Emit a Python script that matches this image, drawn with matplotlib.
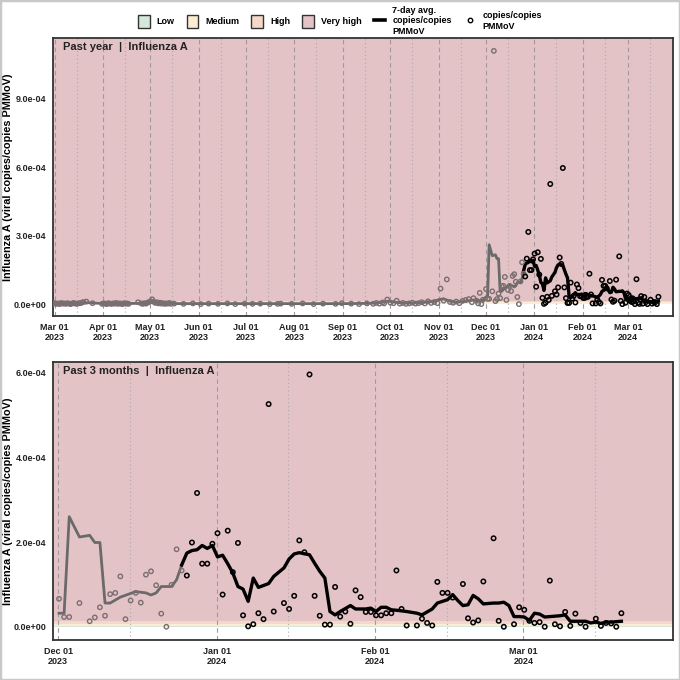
import numpy as np
import pandas as pd
import matplotlib
matplotlib.use('Agg')
import matplotlib.pyplot as plt
from matplotlib.patches import Patch, Rectangle
from matplotlib.lines import Line2D

plt.rcParams['font.family'] = ['Liberation Sans', 'DejaVu Sans']
plt.rcParams['font.weight'] = 'bold'

UNIT = 1e-5  # all values below are in 1e-5 copies/copies PMMoV

# risk levels: lower bound of each level (in UNIT)
level_names = ['Low', 'Medium', 'High', 'Very high']
level_lower = [0.0, 0.2, 0.7, 1.4]
level_colors = ['#d4e7d8', '#fbecd3', '#f4d9ca', '#e4c3c7']

# --- Mar 1 2023 .. Nov 30 2023 (days after 2023-03-01) ---
early_avg_day = [0, 10, 18, 22, 28, 35, 45, 55, 60, 63, 66, 72, 80, 110, 150, 185,
                 200, 207, 211, 214, 217, 222, 230, 236, 239, 243, 246, 249, 252,
                 256, 260, 264, 268, 271, 274]
early_avg_val = [0.3, 0.3, 0.5, 0.6, 0.4, 0.2, 0.3, 0.3, 0.6, 0.9, 0.7, 0.4, 0.2, 0.2,
                 0.2, 0.2, 0.3, 0.5, 1.0, 1.3, 0.9, 0.5, 0.5, 0.7, 1.0, 1.2, 2.0, 2.3,
                 1.5, 0.8, 1.0, 1.3, 1.8, 1.5, 1.7]

early_pt_day = [0, 1, 2, 3, 4, 5, 6, 7, 8, 9, 10, 11, 12, 13, 14, 15, 16, 17, 18, 19, 21, 25,
                31, 32, 33, 34, 35, 36, 37, 38, 39, 40, 41, 42, 43, 44, 45, 46, 47, 48, 54,
                56, 57, 58, 59, 60, 61, 62, 63, 64, 65, 66, 67, 68, 69, 70, 71, 72, 73, 74, 75,
                77, 83, 89, 94, 99, 105, 111, 116, 122, 127, 132, 138, 143, 145, 152, 159,
                166, 172, 180, 184, 190, 195, 200, 204, 206, 208, 210, 211, 213, 215, 217,
                219, 221, 223, 225, 227, 229, 231, 233, 235, 237, 239, 241, 243, 245, 247,
                249, 251, 253, 255, 257, 259, 261, 263, 265, 267, 268, 270, 271, 272, 273, 274]
early_pt_val = [0.2, 0.4, 0.1, 0.3, 0.0, 0.5, 0.2, 0.3, 0.1, 0.4, 0.2, 0.0, 0.3, 0.5, 0.2, 0.1,
                0.3, 0.4, 0.6, 0.9, 1.1, 0.4,
                0.1, 0.3, 0.2, 0.0, 0.4, 0.2, 0.1, 0.3, 0.2, 0.5, 0.1, 0.3, 0.2, 0.0, 0.4, 0.2,
                0.3, 0.1, 0.8,
                0.3, 0.1, 0.4, 0.2, 0.6, 0.9, 1.3, 2.1, 1.0, 0.5, 0.8, 0.3, 0.6, 0.2, 0.4, 0.1,
                0.3, 0.2, 0.5, 0.1,
                0.2, 0.1, 0.3, 0.0, 0.2, 0.1, 0.3, 0.0, 0.2, 0.1, 0.2, 0.0, 0.1, 0.2, 0.1, 0.3,
                0.0, 0.2, 0.1, 0.4, 0.2, 0.0, 0.3, 0.1, 0.5, 0.2, 0.7, 0.3, 2.0, 0.6, 0.4,
                1.5, 0.2, 0.5, 0.1, 0.3, 0.6, 0.2, 0.4, 0.8, 0.3, 1.2, 0.5, 0.9, 0.4, 6.8,
                1.5, 10.8, 0.9, 0.6, 1.1, 0.4, 1.4, 1.8, 2.2, 0.8, 2.6, 1.5, 0.3, 4.9, 0.0, 1.9]

# --- Dec 1 2023 onwards (days after 2023-12-01) ---
recent_avg_day = [1, 2, 3, 5, 7, 8, 9, 10, 11, 13, 16, 18, 19, 20, 21, 23, 24, 25, 26, 27,
                  28, 29, 30, 31, 32, 33, 34, 35, 36, 37, 38, 39, 40, 42, 43, 45, 46, 47,
                  48, 50, 51, 52, 53, 54, 55, 56, 58, 59, 61, 62, 63, 64, 65, 66, 67, 69,
                  71, 72, 74, 75, 77, 78, 79, 80, 81, 82, 83, 84, 86, 87, 88, 89, 90, 91,
                  92, 93, 94, 95, 96, 97, 99, 100, 101, 102, 104, 105, 106, 107, 108, 109, 111]
recent_avg_val = [3.2, 3.2, 26.0, 21.2, 21.6, 19.9, 19.9, 5.6, 5.6, 7.0, 8.3, 8.0, 7.5, 8.0,
                  9.5, 9.5, 11.1, 14.6, 17.4, 18.0, 18.2, 19.2, 18.5, 19.2, 16.5, 16.9, 14.9,
                  12.7, 9.5, 8.9, 6.0, 11.5, 9.3, 10.2, 11.9, 13.9, 16.0, 17.2, 17.5, 17.0,
                  15.0, 13.1, 11.5, 3.6, 2.8, 3.6, 5.0, 4.2, 4.2, 4.4, 3.6, 4.6, 4.6, 4.0,
                  3.9, 3.6, 3.2, 2.8, 4.2, 5.6, 6.4, 7.6, 6.2, 5.0, 5.2, 7.4, 6.6, 5.4, 5.6,
                  5.6, 5.8, 5.0, 2.4, 2.4, 2.3, 1.5, 3.2, 3.0, 2.3, 2.4, 2.6, 2.8, 1.3, 1.3,
                  1.3, 0.9, 1.1, 0.8, 1.1, 1.1, 1.3]

recent_pt_day = [1, 2, 3, 5, 6, 7, 8, 9, 10, 11, 12, 13, 14, 15, 16, 17, 18, 19, 20, 21, 22,
                 23, 24, 25, 26, 27, 28, 29, 30, 31, 32, 33, 34, 35, 36, 37, 38, 39, 40, 41,
                 42, 43, 45, 46, 47, 48, 49, 50, 51, 52, 53, 54, 55, 56, 57, 58, 59, 60, 61,
                 62, 63, 64, 65, 66, 67, 68, 69, 71, 72, 73, 74, 75, 76, 77, 78, 80, 81, 82,
                 83, 84, 86, 87, 88, 90, 91, 92, 93, 94, 95, 96, 97, 98, 99, 100, 101, 102,
                 103, 104, 106, 107, 108, 109, 110, 111]
recent_pt_val = [6.6, 2.3, 2.3, 5.6, 110.9, 1.3, 2.2, 4.6, 2.6, 7.7, 8.0, 11.9, 1.8, 6.2, 8.0,
                 5.7, 12.3, 13.1, 9.8, 3.1, 0.0, 9.9, 18.3, 13.3, 12.1, 19.9, 31.6, 14.9, 14.9,
                 19.6, 22.1, 7.6, 22.7, 12.9, 19.8, 2.7, 0.1, 0.6, 3.2, 1.8, 52.6, 3.6, 5.6,
                 4.2, 7.3, 20.4, 17.6, 59.6, 7.3, 2.6, 0.5, 0.5, 9.4, 2.4, 3.6, 0.7, 8.6, 7.0,
                 3.5, 3.5, 2.7, 2.7, 3.2, 3.2, 13.3, 4.2, 0.3, 0.3, 1.9, 0.9, 0.3, 10.6, 8.0,
                 8.0, 6.9, 10.1, 2.0, 1.0, 1.5, 10.7, 20.9, 1.4, 0.0, 0.6, 4.6, 4.0, 1.4, 0.9,
                 1.1, 0.0, 10.9, 0.6, 0.1, 3.5, 0.2, 3.1, 0.9, 0.0, 1.9, 0.2, 0.9, 0.8, 0.0, 3.2]

early_start = pd.Timestamp('2023-03-01')
recent_start = pd.Timestamp('2023-12-01')
cutoff = pd.Timestamp('2023-12-26')  # older data drawn in grey


def to_dates(start, days):
    return start + pd.to_timedelta(days, unit='D')


avg_dates = to_dates(early_start, early_avg_day).append(to_dates(recent_start, recent_avg_day))
avg_vals = np.array(early_avg_val + recent_avg_val) * UNIT
pt_dates = to_dates(early_start, early_pt_day).append(to_dates(recent_start, recent_pt_day))
pt_vals = np.array(early_pt_val + recent_pt_val) * UNIT

GREY = '#6a6a6a'
PT_GREY = '#7a6e70'


def draw_panel(ax, x0, x1, ylim, yticks, title):
    x0, x1 = pd.Timestamp(x0), pd.Timestamp(x1)
    ax.set_facecolor('white')
    uppers = level_lower[1:] + [ylim[1] / UNIT]
    for lo, hi, c in zip(level_lower, uppers, level_colors):
        ax.axhspan(lo * UNIT, hi * UNIT, color=c, lw=0, zorder=0)

    months = pd.date_range(x0 - pd.Timedelta(days=31), x1, freq='MS')
    for m in months:
        if x0 <= m <= x1:
            ax.axvline(m, color='#a09a9c', lw=0.8, dashes=(4, 3), zorder=1)
        mid = m + pd.Timedelta(days=14)
        if x0 <= mid <= x1:
            ax.axvline(mid, color='#b0a8aa', lw=0.8, dashes=(1, 2.5), zorder=1)

    inwin = (avg_dates >= x0) & (avg_dates <= x1)
    old = inwin & (avg_dates <= cutoff)
    new = inwin & (avg_dates >= cutoff)
    ax.plot(avg_dates[old], avg_vals[old], color=GREY, lw=2.0, zorder=3, solid_joinstyle='round')
    ax.plot(avg_dates[new], avg_vals[new], color='black', lw=2.4, zorder=4, solid_joinstyle='round')

    pwin = (pt_dates >= x0) & (pt_dates <= x1)
    pold = pwin & (pt_dates <= cutoff)
    pnew = pwin & (pt_dates > cutoff)
    ax.scatter(pt_dates[pold], pt_vals[pold], s=10, facecolors='none', edgecolors=PT_GREY,
               linewidths=1.0, zorder=5)
    ax.scatter(pt_dates[pnew], pt_vals[pnew], s=10, facecolors='none', edgecolors='black',
               linewidths=1.1, zorder=6)

    ax.set_xlim(x0, x1)
    ax.set_ylim(*ylim)
    ticks = [m for m in months if x0 <= m <= x1]
    ax.set_xticks(ticks)
    ax.set_xticklabels([t.strftime('%b %d\n%Y') for t in ticks], fontsize=6.5, fontweight='bold',
                       linespacing=1.1)
    ax.set_yticks(yticks)
    ax.set_yticklabels([f'{v:.1e}' for v in yticks], fontsize=6.5, fontweight='bold')
    ax.tick_params(length=0, pad=5, colors='#222222')
    ax.set_ylabel('Influenza A (viral copies/copies PMMoV)', fontsize=7.8, fontweight='bold')
    ax.yaxis.set_label_coords(-0.064, 0.5)
    for sp in ax.spines.values():
        sp.set_color('#333333')
        sp.set_linewidth(1.3)
    ax.text(0.016, 0.985, title, transform=ax.transAxes, ha='left', va='top',
            fontsize=8, fontweight='bold', color='#222222', zorder=10)


fig = plt.figure(figsize=(6.8, 6.8), dpi=100)
ax1 = fig.add_axes([0.078, 0.535, 0.911, 0.409])
ax2 = fig.add_axes([0.078, 0.059, 0.911, 0.409])

draw_panel(ax1, '2023-02-28 18:00', '2024-03-30', (-0.53e-4, 11.65e-4),
           [0, 3e-4, 6e-4, 9e-4], 'Past year  |  Influenza A')
draw_panel(ax2, '2023-11-30 20:00', '2024-03-31', (-0.31e-4, 6.26e-4),
           [0, 2e-4, 4e-4, 6e-4], 'Past 3 months  |  Influenza A')

handles = [Patch(facecolor=c, edgecolor='#333333', lw=1.0) for c in level_colors]
handles += [Line2D([], [], color='black', lw=2.6),
            Line2D([], [], ls='none', marker='o', mfc='none', mec='black', ms=3.2, mew=1.0)]
labels = level_names + ['7-day avg.\ncopies/copies\nPMMoV', 'copies/copies\nPMMoV']
fig.legend(handles, labels, loc='upper center', bbox_to_anchor=(0.5, 1.003), ncol=6,
           frameon=False, prop={'size': 6.5, 'weight': 'bold'}, handlelength=1.3,
           handleheight=1.9, columnspacing=1.3, handletextpad=0.8, labelspacing=0.1)

fig.add_artist(Rectangle((0, 0), 1, 1, transform=fig.transFigure, fill=False,
                         edgecolor='#c8c8c8', lw=2.5))

fig.savefig('out.png', dpi=100)
